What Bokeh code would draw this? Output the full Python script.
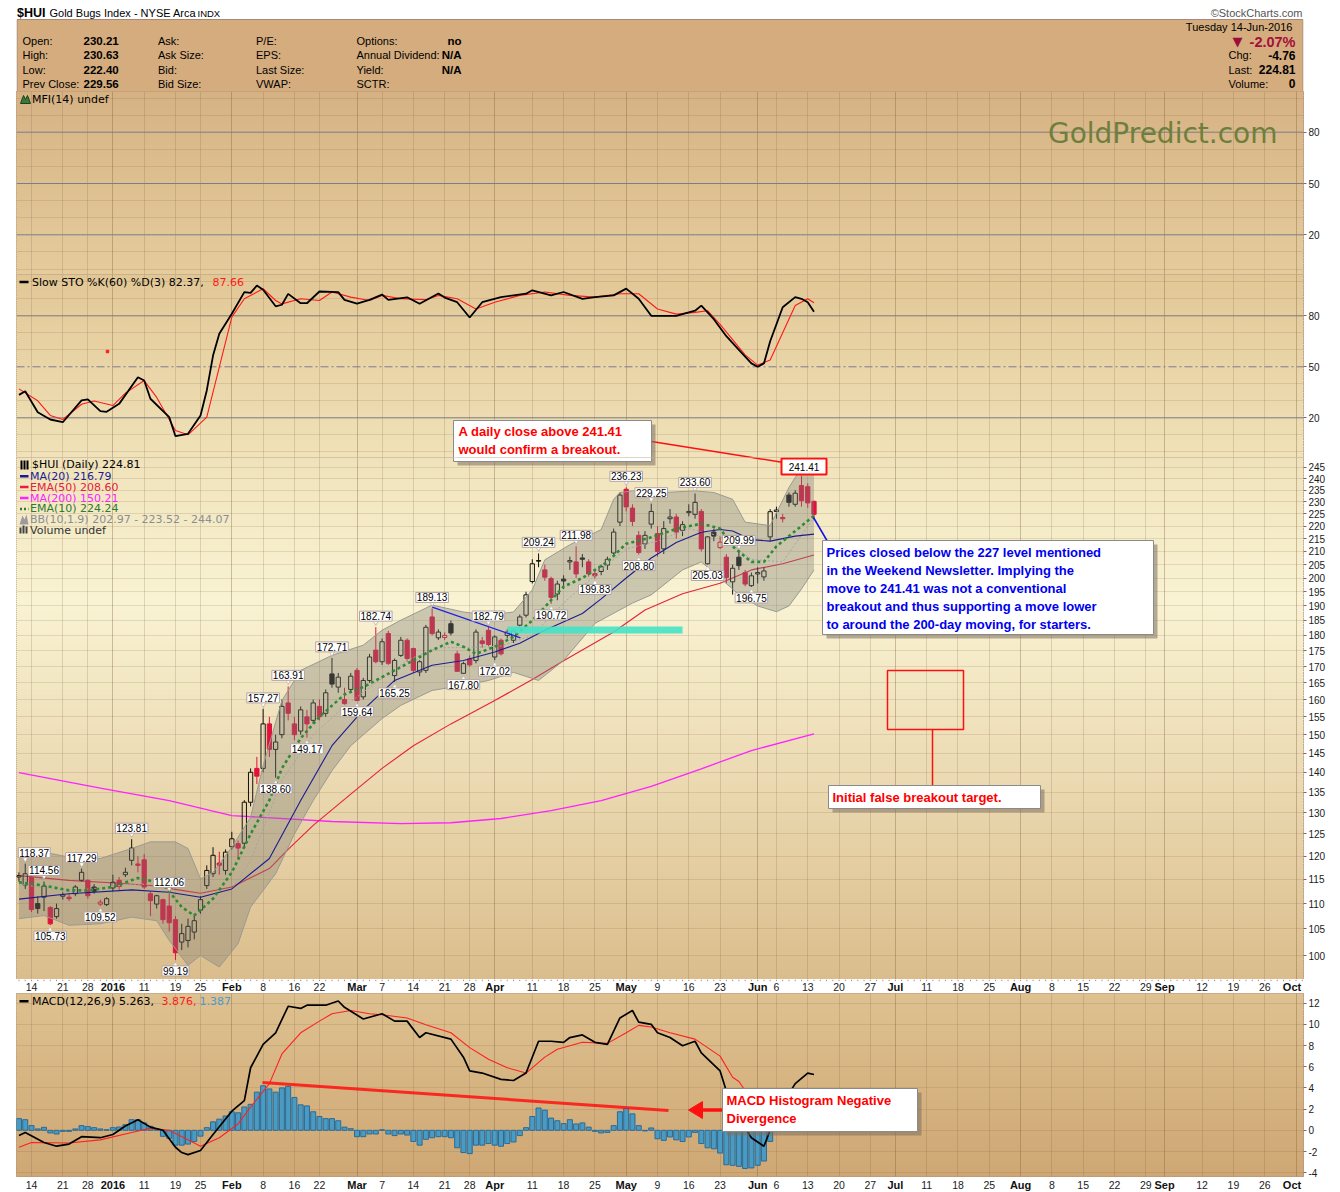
import datetime as dt
from bokeh.plotting import figure
from bokeh.layouts import column
from bokeh.models import Range1d, FixedTicker, Span, Grid, PrintfTickFormatter, ColumnDataSource
from bokeh.core.properties import value
from bokeh.embed import file_html
from bokeh.resources import INLINE

# ---------------- DATA ----------------
holidays = ["2015-12-25", "2016-01-01", "2016-01-18", "2016-02-15", "2016-03-25",
            "2016-05-30", "2016-07-04", "2016-09-05"]
first_day = "2015-12-10"   # first candle (index -2); index 0 = 2015-12-14

price_open = [115.5, 113.8, 115.4, 110.0, 111.3, 109.2, 107.4, 111.5, 111.3, 112.0,
              114.8, 114.8, 113.4, 109.9, 109.8, 113.2, 114.8, 116.0, 119.1, 118.3,
              119.2, 112.0, 109.9, 110.8, 109.5, 106.8, 102.5, 102.8, 104.4, 108.7,
              113.7, 116.2, 118.5, 116.9, 122.1, 122.8, 122.9, 132.5, 141.0, 141.0,
              153.0, 146.0, 150.0, 159.0, 153.0, 151.0, 155.0, 154.0, 158.0, 156.0,
              167.7, 163.7, 160.0, 163.0, 168.8, 160.8, 165.7, 175.2, 171.5, 180.6,
              167.2, 173.5, 178.4, 175.7, 168.3, 168.8, 186.2, 179.2, 179.3, 183.9,
              174.0, 167.9, 172.4, 171.9, 178.2, 181.7, 173.0, 178.4, 180.0, 178.4,
              183.4, 186.8, 198.7, 206.5, 203.0, 199.8, 194.2, 199.6, 206.0, 206.0,
              207.5, 206.0, 201.6, 202.4, 204.8, 209.4, 221.6, 235.4, 227.4, 216.3,
              212.9, 220.8, 217.0, 211.0, 223.0, 223.7, 218.3, 225.5, 224.8, 226.0,
              205.3, 217.6, 211.5, 207.8, 198.6, 207.8, 202.0, 197.2, 201.5, 200.4,
              215.7, 226.0, 223.5, 232.9, 229.0, 237.0, 236.5, 230.21]
price_high = [116.5, 118.37, 115.8, 111.5, 114.56, 109.5, 110.0, 112.3, 112.0, 113.8,
              117.29, 115.0, 114.0, 110.8, 111.3, 116.0, 115.5, 117.5, 123.81, 120.0,
              120.5, 112.5, 111.8, 111.0, 112.06, 107.5, 106.0, 107.0, 108.0, 111.5,
              118.0, 122.0, 121.0, 121.5, 125.5, 123.5, 133.0, 141.0, 144.0, 157.27,
              155.0, 150.0, 160.0, 163.91, 155.0, 158.0, 157.0, 160.0, 160.0, 163.0,
              172.71, 168.0, 163.5, 168.0, 169.5, 166.5, 174.0, 182.74, 179.0, 181.5,
              172.5, 179.5, 179.0, 176.0, 172.0, 183.5, 189.13, 182.0, 181.0, 185.0,
              175.0, 171.5, 173.5, 182.0, 179.5, 182.79, 180.0, 179.0, 182.0, 182.0,
              187.0, 195.0, 207.0, 209.24, 205.0, 200.5, 199.0, 201.0, 208.0, 211.98,
              209.0, 207.0, 203.0, 205.0, 208.0, 219.0, 234.0, 236.23, 229.0, 218.0,
              218.0, 229.25, 220.0, 222.0, 227.0, 225.0, 222.0, 229.0, 233.6, 227.0,
              216.0, 219.0, 216.0, 209.0, 205.0, 209.99, 203.0, 202.0, 204.0, 204.0,
              227.0, 228.0, 225.0, 234.0, 235.0, 241.41, 238.0, 230.63]
price_low = [114.5, 113.0, 108.3, 108.0, 108.5, 105.73, 107.0, 110.8, 110.5, 111.5,
             114.5, 111.0, 112.0, 109.52, 109.5, 112.5, 112.8, 115.5, 118.0, 116.5,
             113.0, 107.5, 109.0, 106.0, 104.5, 99.19, 101.0, 101.5, 103.0, 108.0,
             113.0, 115.5, 116.0, 116.0, 121.5, 119.5, 122.0, 131.5, 137.0, 140.0,
             144.0, 138.6, 149.0, 154.0, 148.5, 150.0, 149.17, 153.0, 154.0, 155.0,
             163.5, 162.0, 158.5, 162.0, 159.64, 160.0, 165.0, 171.0, 170.5, 170.5,
             165.25, 173.0, 171.5, 168.0, 167.0, 168.0, 180.0, 178.5, 178.5, 180.0,
             168.5, 167.8, 170.0, 171.0, 176.0, 176.5, 172.02, 173.5, 179.0, 177.5,
             183.0, 186.0, 198.0, 204.0, 199.0, 190.72, 192.0, 196.0, 203.0, 200.0,
             204.0, 200.5, 199.83, 201.0, 203.0, 208.0, 220.0, 226.0, 220.0, 208.8,
             211.0, 219.0, 208.0, 209.0, 221.0, 215.0, 216.0, 224.0, 223.0, 210.0,
             205.03, 214.0, 211.0, 198.0, 194.0, 203.0, 197.0, 196.75, 198.0, 199.0,
             214.0, 223.0, 221.5, 228.0, 228.0, 228.0, 227.5, 222.4]
price_close = [115.8, 116.2, 108.8, 109.0, 113.6, 106.0, 109.0, 111.8, 111.0, 113.4,
               116.5, 111.6, 112.5, 110.3, 111.0, 114.4, 113.5, 116.5, 121.8, 118.0,
               113.4, 110.6, 111.6, 106.8, 106.2, 100.5, 104.1, 105.5, 106.6, 110.8,
               116.9, 120.2, 118.0, 120.9, 123.9, 121.8, 132.5, 140.0, 139.0, 153.0,
               146.0, 148.0, 158.0, 156.0, 150.0, 157.0, 153.0, 159.0, 155.0, 162.0,
               164.6, 166.7, 158.8, 167.0, 159.7, 165.7, 173.0, 171.5, 177.9, 171.0,
               171.9, 178.4, 172.5, 168.8, 171.5, 182.7, 180.6, 181.1, 180.0, 180.8,
               168.5, 170.9, 170.5, 181.1, 177.3, 177.0, 179.5, 174.0, 181.1, 181.5,
               186.2, 193.9, 205.3, 206.3, 200.3, 193.0, 197.8, 198.9, 206.5, 201.5,
               207.0, 201.5, 200.8, 204.2, 207.0, 217.6, 232.9, 227.9, 221.9, 209.6,
               216.3, 226.0, 210.0, 219.0, 223.7, 217.6, 220.6, 226.0, 229.8, 211.0,
               215.7, 216.0, 213.6, 200.2, 203.6, 204.6, 197.8, 200.8, 202.0, 202.6,
               225.9, 226.6, 223.0, 229.8, 233.7, 230.5, 229.56, 224.81]

# high / low labels
lab_idx = [-1, 2, 3, 8, 11, 16, 22, 23, 37, 39, 41, 44, 48, 52, 55, 58, 64, 69, 73, 74,
           81, 83, 87, 90, 95, 97, 99, 106, 108, 113, 115]
lab_val = [118.37, 114.56, 105.73, 117.29, 109.52, 123.81, 112.06, 99.19, 157.27, 138.60,
           163.91, 149.17, 172.71, 159.64, 182.74, 165.25, 189.13, 167.80, 182.79, 172.02,
           209.24, 190.72, 211.98, 199.83, 236.23, 208.80, 229.25, 233.60, 205.03, 209.99,
           196.75]
lab_above = [1, 1, 0, 1, 0, 1, 1, 0, 1, 0, 1, 0, 1, 0, 1, 0, 1, 0, 1, 0,
             1, 0, 1, 0, 1, 0, 1, 1, 0, 1, 0]

# overlays (trading-day index, value)
ema10_idx = [-2, 2, 6, 9, 13, 17, 21, 24, 26, 29, 32, 35, 38, 40, 43, 46, 50, 53, 58, 62,
             64, 67, 69, 71, 74, 77, 80, 83, 85, 88, 92, 95, 99, 103, 107, 110, 112, 115, 117, 119,
             122, 125]
ema10_val = [114.4, 113.7, 112.7, 112.7, 113.4, 115.3, 114.1, 109.3, 107.6, 111.0,
             116.5, 125.0, 133.0, 141.0, 149.0, 155.0, 161.5, 163.7, 168.8, 173.0,
             175.2, 177.9, 176.3, 174.0, 176.3, 179.5, 185.0, 192.0, 196.9, 200.0,
             206.0, 213.0, 215.5, 218.9, 221.0, 219.0, 212.0, 206.0, 206.0, 212.0,
             218.0, 224.24]
ma20_idx = [-2, 6, 16, 22, 27, 32, 38, 43, 48, 53, 58, 64, 69, 74, 78, 82, 88, 91, 95, 99,
            103, 107, 110, 112, 115, 118, 122, 125]
ma20_val = [110.9, 112.0, 112.8, 112.3, 111.3, 113.0, 119.5, 132.9, 147.0, 157.0,
            165.7, 170.4, 171.9, 174.6, 177.4, 181.7, 187.4, 192.5, 200.0, 207.5,
            213.5, 217.5, 218.6, 218.0, 214.6, 214.0, 216.0, 216.79]
ema50_idx = [-2, 6, 14, 19, 24, 27, 32, 38, 41, 45, 51, 56, 61, 67, 74, 80, 85, 93, 98, 104,
             110, 115, 120, 125]
ema50_val = [115.8, 114.8, 114.2, 113.7, 112.7, 112.1, 113.4, 117.3, 121.5, 127.0,
             134.5, 141.0, 147.0, 153.0, 159.7, 166.0, 171.8, 181.1, 188.6, 194.3,
             198.1, 203.0, 205.3, 208.6]
ma200_idx = [-2, 11, 22, 32, 48, 59, 67, 75, 83, 91, 99, 107, 115, 125]
ma200_val = [139.9, 136.0, 132.9, 129.3, 127.9, 127.4, 127.6, 128.6, 130.5, 132.9,
             136.4, 140.9, 145.7, 150.21]
bb_up_idx = [-2, 2, 6, 11, 16, 19, 23, 25, 27, 29, 32, 35, 37, 40, 43, 48, 53, 56, 59, 64,
             69, 73, 77, 80, 82, 86, 91, 93, 94, 96, 101, 106, 109, 112, 114, 118, 121, 123, 125]
bb_up_val = [121.3, 120.9, 119.8, 119.5, 121.7, 123.2, 123.2, 121.7, 115.1, 116.5,
             122.0, 128.9, 141.7, 159.7, 168.8, 173.5, 176.8, 181.7, 185.1, 190.3,
             187.9, 186.8, 187.9, 195.7, 206.8, 212.6, 218.6, 231.1, 234.0, 234.7,
             234.0, 234.7, 234.0, 231.1, 221.6, 220.2, 236.2, 245.0, 244.07]
bb_lo_idx = [-2, 2, 6, 11, 16, 20, 22, 25, 27, 30, 33, 35, 39, 42, 45, 48, 51, 56, 59, 64,
             69, 73, 77, 81, 85, 90, 96, 99, 104, 107, 110, 113, 116, 119, 121, 123, 125]
bb_lo_val = [107.0, 107.6, 105.7, 106.0, 107.3, 106.6, 102.8, 98.2, 100.0, 97.9,
             102.2, 109.3, 116.2, 125.0, 132.9, 140.4, 147.0, 154.5, 158.3, 162.7,
             164.2, 165.7, 168.2, 165.7, 171.9, 184.0, 191.0, 193.9, 203.0, 206.0,
             200.0, 194.0, 190.0, 188.0, 190.0, 196.0, 202.97]
bb_mid_idx = [-2, 6, 16, 22, 27, 32, 35, 40, 45, 50, 55, 60, 65, 70, 75, 80, 85, 90, 95, 100,
              105, 110, 115, 120, 125]
bb_mid_val = [114.0, 112.5, 114.0, 114.0, 107.5, 113.0, 119.0, 138.0, 150.0, 158.0,
              165.0, 172.0, 176.0, 176.0, 176.5, 180.0, 191.0, 201.0, 211.0, 214.0,
              219.0, 216.0, 207.0, 206.0, 223.52]

# Slow stochastics
sto_k_idx = [-2, -1, 1, 3, 5, 8, 9, 11, 12, 14, 17, 18, 19, 22, 23, 25, 27, 28, 29, 30,
             32, 34, 35, 36, 37, 39, 40, 41, 43, 44, 46, 49, 50, 52, 54, 56, 57, 60, 62, 65,
             66, 68, 70, 72, 75, 79, 80, 83, 85, 88, 90, 93, 95, 97, 99, 101, 103, 106, 107, 109,
             111, 113, 115, 116, 117, 118, 120, 122, 123, 124, 125]
sto_k_val = [33.5, 35.6, 23.3, 19.0, 17.4, 30.2, 30.8, 23.9, 23.5, 28.2,
             43.9, 41.9, 31.2, 20.4, 9.2, 10.6, 21.4, 36.1, 56.6, 69.4,
             81.2, 93.9, 93.5, 97.8, 95.3, 85.6, 86.5, 92.9, 87.4, 87.4,
             94.3, 93.9, 89.4, 87.1, 89.4, 92.5, 89.4, 90.9, 87.1, 93.1,
             90.7, 88, 79, 88, 91, 93, 95, 92, 94, 90,
             91, 92, 96, 90, 80, 80, 80, 83, 86, 78,
             68, 60, 52, 50, 52, 65, 85, 91, 90, 88, 82.37]
sto_d_idx = [-2, 1, 3, 5, 8, 10, 13, 15, 18, 20, 23, 25, 28, 30, 32, 34, 37, 39, 40, 43,
             46, 48, 51, 54, 56, 59, 63, 65, 68, 71, 74, 78, 82, 86, 90, 94, 97, 100, 103, 106,
             108, 110, 112, 114, 116, 118, 120, 122, 124, 125]
sto_d_val = [37, 30, 21.4, 19, 28, 29.9, 27.2, 34.5, 41.9, 32,
             12.5, 10, 20.4, 49.8, 79.2, 90, 95.9, 89, 87, 90,
             89, 94, 91, 89, 92, 90, 89.5, 92, 90, 84,
             88, 92, 94, 92, 91, 93, 93, 84, 81, 82,
             83, 75, 66, 57, 51, 54, 70, 86, 90, 87.66]

# MACD(12,26,9)
macd_idx = [-2, -1, 2, 4, 6, 8, 11, 13, 15, 17, 19, 21, 23, 24, 25, 27, 29, 32, 34, 35,
            37, 39, 41, 43, 44, 47, 49, 50, 53, 56, 58, 60, 62, 63, 67, 69, 70, 72, 75, 77,
            79, 81, 83, 85, 86, 88, 90, 92, 94, 96, 97, 99, 100, 102, 104, 106, 107, 110, 111, 113,
            115, 117, 118, 120, 122, 124, 125]
macd_val = [-0.5, -0.2, -1.15, -1.5, -1.3, -0.6, -0.7, -0.4, 0.4, 1.0,
            0.3, 0.0, -1.6, -2.1, -2.3, -1.9, -0.4, 1.8, 2.8, 5.9,
            8.1, 9.2, 11.7, 11.5, 11.8, 11.8, 12.2, 11.6, 10.5, 11.0,
            10.3, 10.3, 8.75, 9.2, 8.6, 6.9, 5.6, 5.4, 4.8, 4.7,
            5.4, 8.4, 8.4, 8.3, 8.75, 9.0, 8.3, 8.1, 10.6, 11.3,
            10.2, 10.0, 9.2, 8.75, 7.97, 8.4, 7.3, 5.6, 3.7, 1.2,
            -0.7, -1.5, 0.0, 2.5, 4.4, 5.4, 5.263]
sig_idx = [-2, 0, 6, 11, 16, 19, 22, 25, 27, 30, 33, 35, 38, 40, 43, 46, 48, 51, 54, 56,
           60, 63, 67, 70, 73, 76, 79, 82, 84, 88, 92, 95, 97, 99, 102, 106, 110, 112, 113, 115,
           117, 118, 120, 122, 124, 125]
sig_val = [-1.6, -1.15, -1.2, -0.9, -0.2, 0.2, 0.0, -0.9, -1.5, -0.7,
           0.6, 2.2, 4.4, 7.2, 9.2, 10.3, 11.0, 11.3, 11.0, 10.9,
           10.6, 9.95, 9.2, 7.8, 6.7, 5.9, 5.4, 6.9, 7.65, 8.3,
           8.2, 9.2, 9.9, 9.75, 9.2, 8.6, 7.0, 5.0, 4.6, 2.9,
           1.4, 1.1, 1.8, 2.9, 3.6, 3.876]
macd_hist = [1.1, 1.0, 0.44, 0.13, 0.28, -0.25, -0.35, -0.1, -0.1, 0.13,
             0.44, 0.35, 0.25, 0.13, 0.06, 0.25, 0.31, 0.53, 1.0, 1.0,
             0.7, 0.38, 0.13, -0.57, -0.75, -1.4, -1.4, -1.3, -1.05, -0.55,
             0.25, 0.8, 1.05, 1.35, 1.75, 1.65, 2.2, 2.45, 3.6, 4.2,
             3.9, 3.6, 4.0, 4.15, 3.1, 2.4, 2.3, 1.75, 1.3, 1.1,
             1.1, 0.9, 0.3, 0.15, -0.6, -0.6, -0.35, -0.35, 0.05, -0.35,
             -0.5, -0.35, -0.45, -1.05, -1.4, -0.85, -0.7, -0.6, -0.6, -0.7,
             -1.65, -2.1, -2.2, -1.4, -1.4, -1.25, -1.4, -1.5, -1.25, -1.1,
             -0.5, 0.25, 1.3, 2.1, 1.9, 1.15, 0.9, 0.63, 1.0, 0.6,
             0.7, 0.3, -0.1, -0.25, -0.2, 0.44, 1.75, 2.05, 1.55, 0.44,
             -0.06, 0.22, -0.8, -0.95, -0.63, -0.9, -1.05, -0.63, -0.2, -1.25,
             -1.65, -1.75, -2.15, -3.25, -3.3, -3.4, -3.6, -3.55, -3.3, -2.9,
             -1.05, 0.3, 0.6, 1.0, 1.3, 1.5, 1.5, 1.387]

xtick_dates = ["2015-12-14", "2015-12-21", "2015-12-28", "2016-01-04", "2016-01-11", "2016-01-19",
               "2016-01-25", "2016-02-01", "2016-02-08", "2016-02-16", "2016-02-22", "2016-03-01",
               "2016-03-07", "2016-03-14", "2016-03-21", "2016-03-28", "2016-04-01", "2016-04-11",
               "2016-04-18", "2016-04-25", "2016-05-02", "2016-05-09", "2016-05-16", "2016-05-23",
               "2016-06-01", "2016-06-06", "2016-06-13", "2016-06-20", "2016-06-27", "2016-07-01",
               "2016-07-11", "2016-07-18", "2016-07-25", "2016-08-01", "2016-08-08", "2016-08-15",
               "2016-08-22", "2016-08-29", "2016-09-01", "2016-09-12", "2016-09-19", "2016-09-26",
               "2016-10-03"]
xtick_labels = ["14", "21", "28", "2016", "11", "19", "25", "Feb", "8", "16", "22", "Mar",
                "7", "14", "21", "28", "Apr", "11", "18", "25", "May", "9", "16", "23",
                "Jun", "6", "13", "20", "27", "Jul", "11", "18", "25", "Aug", "8", "15",
                "22", "29", "Sep", "12", "19", "26", "Oct"]
price_ticks = list(range(100, 250, 5))
macd_ticks = [-4, -2, 0, 2, 4, 6, 8, 10, 12]
osc_ticks = [20, 50, 80]

# ---------------- CALENDAR / GEOMETRY ----------------
hol = {dt.date.fromisoformat(h) for h in holidays}
cal = []
d = dt.date.fromisoformat(first_day)
while d <= dt.date(2016, 10, 10):
    if d.weekday() < 5 and d not in hol:
        cal.append(d)
    d += dt.timedelta(days=1)
ORIGIN = cal.index(dt.date(2015, 12, 14))


def day_idx(s):
    return cal.index(dt.date.fromisoformat(s)) - ORIGIN


PX0, PXD = 31.0, 6.26


def px2i(px):
    return (px - PX0) / PXD


FRAME_L, FRAME_R = 16, 1303
BL, BR = FRAME_L, 1340 - FRAME_R


def XR():
    return Range1d(px2i(FRAME_L), px2i(FRAME_R))


def y_osc_mfi(py):
    return 50 + (183.0 - py) / 1.71


def y_osc_sto(py):
    return 50 + (366.3 - py) / 1.70


def y_price(py):
    return 100 * 10 ** ((955.0 - py) / 1254.0)


def y_macd(py):
    return (1129.8 - py) / 10.6


STOPS = [(91, (214, 178, 131)), (274, (229, 204, 157)), (275, (226, 199, 150)),
         (457, (240, 226, 185)), (458, (240, 227, 187)), (600, (249, 243, 211)),
         (979, (219, 189, 140)), (993, (222, 193, 144)), (1176, (206, 167, 116))]


def grad_color(py):
    for (y0, c0), (y1, c1) in zip(STOPS, STOPS[1:]):
        if y0 <= py <= y1:
            t = (py - y0) / (y1 - y0) if y1 > y0 else 0
            return "#%02x%02x%02x" % tuple(int(round(a + (b - a) * t)) for a, b in zip(c0, c1))
    return "#f0e0b0"


def add_bg(p, top, bot, conv):
    tops, bots, cols = [], [], []
    py = top
    while py < bot:
        tops.append(conv(py))
        bots.append(conv(min(py + 2, bot)))
        cols.append(grad_color(py + 1))
        py += 2
    r = p.quad(left=px2i(FRAME_L - 2), right=px2i(FRAME_R + 2), top=tops, bottom=bots,
               fill_color=cols, line_color=cols, line_width=1)
    r.level = "image"


def ptxt(p, conv, px, py, s, color="black", size="11px", font="Liberation Sans",
         style="normal", align="left"):
    p.text(x=[px2i(px)], y=[conv(py)], text=[s], text_color=color, text_font_size=size,
           text_font=value(font), text_font_style=style, text_align=align,
           text_baseline="middle")


def callout(p, conv, x0, y0, x1, y1, edge="#8a8a8a"):
    p.quad(left=px2i(x0 + 4), right=px2i(x1 + 4), top=conv(y0 + 4), bottom=conv(y1 + 4),
           fill_color="#7d6f5f", fill_alpha=0.55, line_color=None)
    p.quad(left=px2i(x0), right=px2i(x1), top=conv(y0), bottom=conv(y1),
           fill_color="white", line_color=edge, line_width=1)


def pline(p, conv, pts, color, width=1.0, dash="solid", alpha=1.0):
    p.line([px2i(a) for a, b in pts], [conv(b) for a, b in pts], line_color=color,
           line_width=width, line_dash=dash, line_alpha=alpha)


tick_idx = [day_idx(s) for s in xtick_dates]
month_idx = [i for i, l in zip(tick_idx, xtick_labels) if not l.isdigit() or l == "2016"]
week_idx = [i for i in tick_idx if i not in month_idx]


def panel(h, y0, y1, conv, top_px, bot_px, log=False, hticks=None, hminor=None, bb=0):
    p = figure(width=1340, height=h, x_range=XR(), y_range=Range1d(y0, y1),
               y_axis_type="log" if log else "linear", output_backend="svg",
               toolbar_location=None, x_axis_location=None, y_axis_location="right",
               min_border_left=BL, min_border_right=BR,
               min_border_top=0, min_border_bottom=bb)
    p.outline_line_color = "#a8887a"
    p.outline_line_width = 1
    p.border_fill_color = "white"
    p.background_fill_color = "#f0e0b8"
    p.grid.visible = False
    add_bg(p, top_px, bot_px, conv)
    p.add_layout(Grid(dimension=0, ticker=FixedTicker(ticks=week_idx),
                      grid_line_color="#7a5a3a", grid_line_alpha=0.2))
    p.add_layout(Grid(dimension=0, ticker=FixedTicker(ticks=month_idx),
                      grid_line_color="#7a5a3a", grid_line_alpha=0.35))
    if hminor:
        p.add_layout(Grid(dimension=1, ticker=FixedTicker(ticks=hminor),
                          grid_line_color="#7a5a3a", grid_line_alpha=0.16))
    ax = p.yaxis[0]
    ax.ticker = FixedTicker(ticks=hticks)
    ax.formatter = PrintfTickFormatter(format="%d")
    ax.major_label_text_font = "Liberation Sans"
    ax.major_label_text_font_size = "10px"
    ax.major_label_text_color = "#1a1a1a"
    ax.major_label_standoff = 2
    ax.axis_line_color = "#b09090"
    ax.axis_line_dash = "1 2"
    ax.major_tick_line_color = "#806868"
    ax.major_tick_out = 3
    ax.major_tick_in = 0
    ax.minor_tick_out = 0
    ax.minor_tick_in = 0
    return p


# ---------------- HEADER ----------------
hdr = figure(width=1340, height=91, x_range=Range1d(FRAME_L, FRAME_R), y_range=Range1d(91, 0),
             output_backend="svg", toolbar_location=None, x_axis_location=None,
             y_axis_location=None, min_border_left=BL, min_border_right=BR,
             min_border_top=0, min_border_bottom=0)
hdr.outline_line_color = None
hdr.background_fill_color = "white"
hdr.border_fill_color = "white"
hdr.grid.visible = False
hdr.quad(left=16.5, right=1302.5, top=19, bottom=91, fill_color="#d4ac7d", line_color="#a8887a")


def htxt(x, y, s, color="black", size="11px", style="normal", align="left", font="Liberation Sans"):
    hdr.text(x=[x], y=[y], text=[s], text_color=color, text_font_size=size,
             text_font=value(font), text_font_style=style, text_align=align,
             text_baseline="middle")


htxt(16.5, 12, "$HUI", size="12.5px", style="bold")
htxt(49, 12, "Gold Bugs Index - NYSE Arca", size="11px")
htxt(197, 12.5, "INDX", size="9.5px")
htxt(1302, 12, "\u00a9StockCharts.com", color="#555555", size="11px", align="right")
rows_y = [40.7, 54.5, 69.0, 83.3]
for y, a, v, b, c, dd, dv in zip(rows_y,
                                 ["Open:", "High:", "Low:", "Prev Close:"],
                                 ["230.21", "230.63", "222.40", "229.56"],
                                 ["Ask:", "Ask Size:", "Bid:", "Bid Size:"],
                                 ["P/E:", "EPS:", "Last Size:", "VWAP:"],
                                 ["Options:", "Annual Dividend:", "Yield:", "SCTR:"],
                                 ["no", "N/A", "N/A", ""]):
    htxt(22, y, a)
    htxt(83, y, v, style="bold", size="11.5px")
    htxt(157.5, y, b)
    htxt(255.5, y, c)
    htxt(356, y, dd)
    if dv:
        htxt(461, y, dv, style="bold", size="11.5px", align="right")
htxt(1295, 26, "Tuesday  14-Jun-2016", size="11px", align="right")
htxt(1237, 41, "\u25bc", color="#9a0f3a", size="13px", align="center", font="DejaVu Sans")
htxt(1295, 41, "-2.07%", color="#a3103c", size="14.5px", style="bold", align="right")
for y, a, v in zip([54.5, 69.0, 83.3], ["Chg:", "Last:", "Volume:"], ["-4.76", "224.81", "0"]):
    htxt(1228, y, a)
    htxt(1295, y, v, style="bold", size="12px", align="right")

# ---------------- MFI PANEL ----------------
mfi = panel(183, y_osc_mfi(274), y_osc_mfi(91), y_osc_mfi, 91, 274,
            hticks=osc_ticks, hminor=[0, 10, 30, 40, 60, 70, 90, 100])
for lv in osc_ticks:
    mfi.add_layout(Span(location=lv, dimension="width", line_color="#7b7d8c",
                        line_width=1, level="underlay"))
ptxt(mfi, y_osc_mfi, 31.5, 99, "MFI(14) undef", size="11px", font="DejaVu Sans")
mfi.patch([px2i(20), px2i(23), px2i(25), px2i(27), px2i(30)],
          [y_osc_mfi(103), y_osc_mfi(95), y_osc_mfi(99), y_osc_mfi(95), y_osc_mfi(103)],
          fill_color="#3a7a3a", line_color="#204020")
ptxt(mfi, y_osc_mfi, 1277, 133, "GoldPredict.com", color="#6e7f3c", size="28px",
     font="DejaVu Sans", align="right")

# ---------------- STO PANEL ----------------
sto = panel(183, y_osc_sto(457), y_osc_sto(274), y_osc_sto, 274, 457,
            hticks=osc_ticks, hminor=[0, 10, 30, 40, 60, 70, 90, 100])
for lv in (20, 80):
    sto.add_layout(Span(location=lv, dimension="width", line_color="#7b7b7b",
                        line_width=1, level="underlay"))
sto.add_layout(Span(location=50, dimension="width", line_color="#7b7d8c", line_width=1,
                    line_dash="8 3 2 3", level="underlay"))
sto.line(sto_d_idx, sto_d_val, line_color="#ff1a1a", line_width=1.1)
sto.line(sto_k_idx, sto_k_val, line_color="black", line_width=1.8)
sto.scatter([px2i(107)], [y_osc_sto(351)], marker="square", size=2.5, color="#ff1a1a")
pline(sto, y_osc_sto, [(19, 281.5), (28, 281.5)], "black", 2.5)
ptxt(sto, y_osc_sto, 31.5, 281.5, "Slow STO %K(60) %D(3) 82.37,", size="11px", font="DejaVu Sans")
ptxt(sto, y_osc_sto, 212, 281.5, "87.66", color="#ff1a1a", size="11px", font="DejaVu Sans")

# ---------------- PRICE PANEL ----------------
price = panel(522, y_price(979), y_price(457), y_price, 457, 979, log=True,
              hticks=price_ticks, hminor=price_ticks)

n = len(price_close)
cx = list(range(-2, -2 + n))
ccol, calpha, btop, bbot = [], [], [], []
for i in range(n):
    prev = price_close[i - 1] if i > 0 else price_open[i]
    col = "#e0123c" if price_close[i] < prev else "#111111"
    ccol.append(col)
    calpha.append(1.0 if price_close[i] < price_open[i] else 0.0)
    btop.append(max(price_open[i], price_close[i]))
    bbot.append(min(price_open[i], price_close[i]))
cs = ColumnDataSource(dict(x=cx, hi=price_high, lo=price_low, top=btop, bot=bbot,
                           col=ccol, alpha=calpha))

price.line(ma200_idx, ma200_val, line_color="#ff22ff", line_width=1.3)
price.line(ema50_idx, ema50_val, line_color="#e8203c", line_width=1.1)
price.segment(x0="x", y0="top", x1="x", y1="hi", line_color="col", line_width=1, source=cs)
price.segment(x0="x", y0="lo", x1="x", y1="bot", line_color="col", line_width=1, source=cs)
price.vbar(x="x", top="top", bottom="bot", width=0.68, fill_color="col", fill_alpha="alpha",
           line_color="col", line_width=1, source=cs)
price.patch(bb_up_idx + bb_lo_idx[::-1], bb_up_val + bb_lo_val[::-1],
            fill_color="#7c7c74", fill_alpha=0.36, line_color=None)
price.line(bb_up_idx, bb_up_val, line_color="#9a9a94", line_width=1)
price.line(bb_lo_idx, bb_lo_val, line_color="#9a9a94", line_width=1)
price.line(bb_mid_idx, bb_mid_val, line_color="#a5a5a5", line_width=1, line_dash="2 2")
price.line(ma20_idx, ma20_val, line_color="#1c1c90", line_width=1.1)
price.line(ema10_idx, ema10_val, line_color="#2f8a36", line_width=2.6, line_dash="3 3")

# annotations on price panel
price.quad(left=px2i(507), right=px2i(682), top=y_price(626), bottom=y_price(633),
           fill_color="#45e2c6", fill_alpha=0.9, line_color=None)
pline(price, y_price, [(431.7, 606.7), (520, 637.3)], "#1f1fe6", 1.3)

hx = [i for i, a in zip(lab_idx, lab_above) if a]
hv = [v for v, a in zip(lab_val, lab_above) if a]
hoff = [9 if i < 0 else 0 for i in hx]
lx = [i for i, a in zip(lab_idx, lab_above) if not a]
lv_ = [v for v, a in zip(lab_val, lab_above) if not a]
common = dict(text_align="center", text_font=value("Liberation Sans"), text_font_size="10px",
              text_color="black", background_fill_color="white", border_line_color="#b4a4a4",
              padding=1)
# small pointers between label box and candle
price.text(x=hx, y=hv, text=["\u25bc"] * len(hx), text_align="center", text_baseline="bottom",
           y_offset=0, text_font=value("DejaVu Sans"), text_font_size="9px", text_color="#b4a4a4")
price.text(x=hx, y=hv, text=["\u25bc"] * len(hx), text_align="center", text_baseline="bottom",
           y_offset=-1, text_font=value("DejaVu Sans"), text_font_size="7px", text_color="white")
price.text(x=lx, y=lv_, text=["\u25b2"] * len(lx), text_align="center", text_baseline="top",
           y_offset=0, text_font=value("DejaVu Sans"), text_font_size="9px", text_color="#b4a4a4")
price.text(x=lx, y=lv_, text=["\u25b2"] * len(lx), text_align="center", text_baseline="top",
           y_offset=1, text_font=value("DejaVu Sans"), text_font_size="7px", text_color="white")
price.text(x=hx, y=hv, text=["%.2f" % v for v in hv], text_baseline="bottom", y_offset=-6,
           x_offset=hoff, **common)
price.text(x=lx, y=lv_, text=["%.2f" % v for v in lv_], text_baseline="top", y_offset=6, **common)

# breakout callout (spans STO + price panels)
for p, conv in ((sto, y_osc_sto), (price, y_price)):
    pline(p, conv, [(651, 441), (783, 462)], "#ff1010", 1.5)
    callout(p, conv, 453, 420, 651, 461)
ptxt(sto, y_osc_sto, 458, 431, "A daily close above 241.41", color="#ff0000", size="13px", style="bold")
ptxt(sto, y_osc_sto, 458, 449, "would confirm a breakout.", color="#ff0000", size="13px", style="bold")
price.quad(left=px2i(781), right=px2i(826), top=y_price(458), bottom=y_price(474),
           fill_color="white", line_color="#ff1010", line_width=2)
ptxt(price, y_price, 803.5, 466, "241.41", size="10px", align="center")

pline(price, y_price, [(813, 517), (827, 541)], "#1010e8", 1.5)
callout(price, y_price, 822, 540, 1153, 634)
for k, s in enumerate(["Prices closed below the 227 level mentioned",
                       "in the Weekend Newsletter. Implying the",
                       "move to 241.41 was not a conventional",
                       "breakout and thus supporting a move lower",
                       "to around the 200-day moving, for starters."]):
    ptxt(price, y_price, 826, 552 + 18 * k, s, color="#0000f0", size="13px", style="bold")

price.quad(left=px2i(887), right=px2i(963), top=y_price(670), bottom=y_price(729),
           fill_alpha=0, line_color="#ff1010", line_width=1.5)
pline(price, y_price, [(932, 729), (932, 785)], "#ff1010", 1.5)
callout(price, y_price, 828, 785, 1040, 808)
ptxt(price, y_price, 832, 797, "Initial false breakout target.", color="#ff0000", size="13px", style="bold")

# legend
ptxt(price, y_price, 31.5, 464.3, "$HUI (Daily) 224.81", size="11px", font="DejaVu Sans")
price.segment(x0=[px2i(21), px2i(24), px2i(27)], y0=[y_price(460)] * 3,
              x1=[px2i(21), px2i(24), px2i(27)], y1=[y_price(469)] * 3, line_color="black", line_width=2)
leg = [("MA(20) 216.79", "#1c1c90", "solid"), ("EMA(50) 208.60", "#e8203c", "solid"),
       ("MA(200) 150.21", "#ff22ff", "solid"), ("EMA(10) 224.24", "#2f7a30", "2 2"),
       ("BB(10,1.9) 202.97 - 223.52 - 244.07", "#8a8e94", None), ("Volume undef", "#333333", None)]
for k, (s, c, dash) in enumerate(leg):
    y = 475.7 + 10.9 * k
    if dash:
        pline(price, y_price, [(19.5, y), (28, y)], c, 2.5, dash)
    ptxt(price, y_price, 29.5, y, s, color=c, size="11px", font="DejaVu Sans")
price.patch([px2i(19), px2i(22), px2i(24), px2i(26), px2i(28)],
            [y_price(524), y_price(515), y_price(519), y_price(514), y_price(524)],
            fill_color="#9a9aa0", line_color=None)
price.quad(left=[px2i(19), px2i(22), px2i(25)], right=[px2i(21), px2i(24), px2i(27)],
           top=[y_price(527), y_price(525), y_price(526)], bottom=[y_price(533)] * 3,
           fill_color="#444444", line_color=None)

# ---------------- MACD PANEL ----------------
macd = panel(186, y_macd(1176), y_macd(993), y_macd, 993, 1176,
             hticks=macd_ticks, hminor=macd_ticks, bb=3)
macd.vbar(x=cx, top=macd_hist, bottom=0, width=0.8, fill_color="#4a9bc4",
          line_color="#2b6a94", line_width=1)
macd.line(sig_idx, sig_val, line_color="#ff2020", line_width=1.1)
macd.line(macd_idx, macd_val, line_color="black", line_width=1.7)
pline(macd, y_macd, [(262, 1082), (668, 1110)], "#ff1010", 3, alpha=0.85)
pline(macd, y_macd, [(722, 1109.5), (698, 1109.5)], "#ff1010", 3.5)
macd.patch([px2i(688), px2i(702), px2i(702)], [y_macd(1109.5), y_macd(1101), y_macd(1118)],
           fill_color="#ff1010", line_color="#ff1010")
callout(macd, y_macd, 722, 1088, 917, 1131)
ptxt(macd, y_macd, 726, 1100, "MACD Histogram Negative", color="#ff0000", size="13px", style="bold")
ptxt(macd, y_macd, 726, 1118, "Divergence", color="#ff0000", size="13px", style="bold")
pline(macd, y_macd, [(19, 1000.7), (28, 1000.7)], "black", 2.5)
ptxt(macd, y_macd, 31.5, 1000.7, "MACD(12,26,9) 5.263,", size="11px", font="DejaVu Sans")
ptxt(macd, y_macd, 161, 1000.7, "3.876,", color="#ff1a1a", size="11px", font="DejaVu Sans")
ptxt(macd, y_macd, 199, 1000.7, "1.387", color="#4a9bd0", size="11px", font="DejaVu Sans")


# ---------------- DATE LABEL STRIPS ----------------
def strip(h, ty, tick_top):
    s = figure(width=1340, height=h, x_range=XR(), y_range=Range1d(h, 0),
               output_backend="svg", toolbar_location=None, x_axis_location=None,
               y_axis_location=None, min_border_left=BL, min_border_right=BR,
               min_border_top=0, min_border_bottom=0)
    s.outline_line_color = None
    s.background_fill_color = "white"
    s.border_fill_color = "white"
    s.grid.visible = False
    all_idx = [i - ORIGIN for i in range(len(cal)) if px2i(FRAME_L) <= i - ORIGIN <= px2i(FRAME_R)]
    s.segment(x0=all_idx, y0=tick_top, x1=all_idx, y1=tick_top + 1.6, line_color="#a08888", line_width=1)
    mx = [i for i, l in zip(tick_idx, xtick_labels) if i in month_idx]
    ml = [l for i, l in zip(tick_idx, xtick_labels) if i in month_idx]
    wx = [i for i, l in zip(tick_idx, xtick_labels) if i not in month_idx]
    wl = [l for i, l in zip(tick_idx, xtick_labels) if i not in month_idx]
    moff = [-4 if l == "Oct" else 0 for l in ml]
    s.text(x=mx, y=[ty] * len(mx), text=ml, text_align="center", text_baseline="middle",
           x_offset=moff, text_font=value("Liberation Sans"), text_font_size="11px",
           text_font_style="bold", text_color="#111111")
    s.text(x=wx, y=[ty] * len(wx), text=wl, text_align="center", text_baseline="middle",
           text_font=value("Liberation Sans"), text_font_size="10.5px", text_color="#222222")
    return s


strip1 = strip(14, 7.5, 0)
strip2 = strip(13, 5, -3)

layout = column(hdr, mfi, sto, price, strip1, macd, strip2, spacing=0)
open("out.html", "w").write(file_html(layout, INLINE))
